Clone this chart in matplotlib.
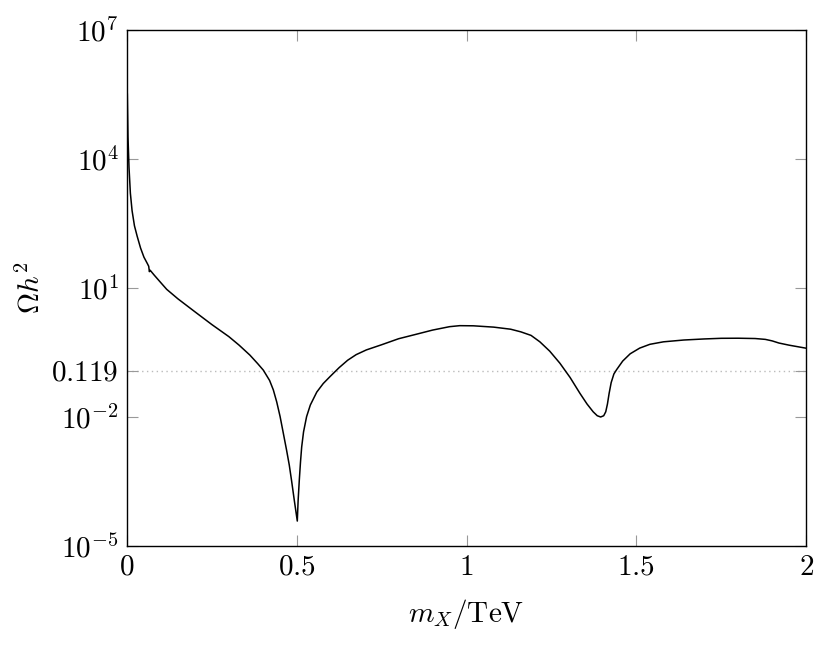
import numpy as np
import matplotlib
matplotlib.use('Agg')
import matplotlib.pyplot as plt
from matplotlib.ticker import FixedLocator, NullLocator

plt.rcParams['mathtext.fontset'] = 'cm'
plt.rcParams['font.family'] = 'serif'
plt.rcParams['font.serif'] = ['cmr10', 'DejaVu Serif']

# relic density, Omega h^2 against m_X in TeV
m_x = [0.001, 0.003, 0.006, 0.010, 0.015, 0.022, 0.030, 0.040, 0.050, 0.060,
       0.064, 0.066, 0.068, 0.080, 0.100, 0.117, 0.150, 0.200, 0.250, 0.300,
       0.330, 0.362, 0.385, 0.4015, 0.420, 0.431, 0.441, 0.451, 0.460, 0.470,
       0.478, 0.485, 0.493, 0.5016, 0.504, 0.5075, 0.511, 0.5145, 0.520, 0.529,
       0.540, 0.559, 0.578, 0.598, 0.625, 0.650, 0.675, 0.705, 0.750, 0.800,
       0.850, 0.900, 0.950, 0.980, 1.020, 1.080, 1.130, 1.160, 1.190, 1.216,
       1.245, 1.275, 1.305, 1.334, 1.355, 1.373, 1.385, 1.395, 1.404, 1.410,
       1.415, 1.420, 1.426, 1.434, 1.442, 1.460, 1.482, 1.510, 1.540, 1.580,
       1.640, 1.700, 1.750, 1.800, 1.850, 1.880, 1.900, 1.920, 1.950, 2.000]
omega = [3.2e5, 3.2e4, 6.3e3, 1.6e3, 630, 280, 160, 85, 52, 37,
         32, 24, 26, 20, 13.2, 9.3, 5.6, 2.8, 1.41, 0.74,
         0.47, 0.275, 0.174, 0.123, 0.0708, 0.0427, 0.0224, 0.0102, 0.00437, 0.0017,
         7.6e-4, 3.2e-4, 1.12e-4, 3.8e-5, 1.12e-4, 3.4e-4, 8.9e-4, 2.0e-3, 4.5e-3, 0.0102,
         0.019, 0.038, 0.060, 0.087, 0.141, 0.209, 0.282, 0.363, 0.479, 0.661,
         0.832, 1.05, 1.26, 1.33, 1.32, 1.23, 1.10, 0.955, 0.79, 0.56,
         0.34, 0.178, 0.083, 0.0355, 0.020, 0.0132, 0.0107, 0.0100, 0.0107, 0.0132,
         0.020, 0.0355, 0.063, 0.100, 0.126, 0.200, 0.295, 0.400, 0.490, 0.560,
         0.617, 0.653, 0.676, 0.679, 0.668, 0.638, 0.589, 0.525, 0.468, 0.398]

dm_line = 0.119
ytick_vals = [1e-5, 1e-2, 0.119, 1e1, 1e4, 1e7]
ytick_labels = ['$10^{-5}$', '$10^{-2}$', '$0.119$', '$10^{1}$', '$10^{4}$', '$10^{7}$']
xtick_vals = [0, 0.5, 1, 1.5, 2]
xtick_labels = ['$0$', '$0.5$', '$1$', '$1.5$', '$2$']

fig = plt.figure(figsize=(8.31, 6.45), dpi=100)
ax = fig.add_axes([0.1528, 0.1535, 0.8172, 0.8000])

ax.axhline(dm_line, color='#bbbbbb', linestyle=(0, (1, 2.5)), linewidth=1.0, zorder=1)
ax.plot(m_x, omega, color='black', linewidth=1.1, zorder=3)

ax.set_yscale('log')
ax.set_xlim(0, 2)
ax.set_ylim(1e-5, 1e7)

ax.yaxis.set_major_locator(FixedLocator(ytick_vals))
ax.yaxis.set_minor_locator(NullLocator())
ax.set_yticklabels(ytick_labels)
ax.set_xticks(xtick_vals)
ax.set_xticklabels(xtick_labels)

ax.tick_params(which='major', direction='in', length=8, width=0.8, color='#999999',
               top=True, right=True, labelsize=21, pad=6)
for sp in ax.spines.values():
    sp.set_linewidth(1.0)

ax.set_xlabel(r'$m_X/\mathrm{TeV}$', fontsize=21, labelpad=12)
ax.set_ylabel(r'$\Omega h^2$', fontsize=21, labelpad=4)

fig.savefig('out.png', dpi=100)
